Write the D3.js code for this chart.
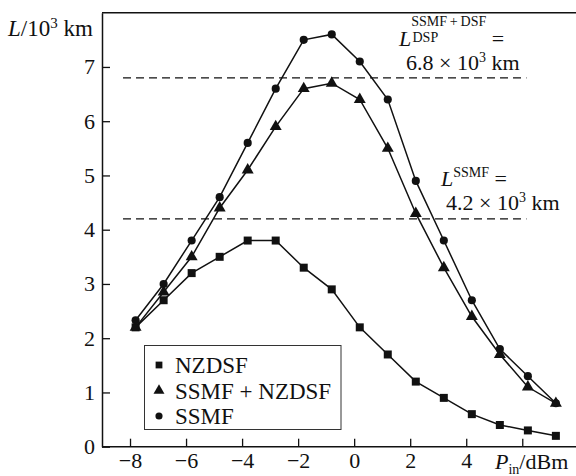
<!DOCTYPE html>
<html>
<head>
<meta charset="utf-8">
<script src="https://cdn.jsdelivr.net/npm/d3@7"></script>
<style>
  html, body { margin: 0; padding: 0; background: #fff; }
  svg { display: block; }
  svg text { font-family: "Liberation Serif", "Times New Roman", Tinos, "Nimbus Roman", Times, serif; }
</style>
</head>
<body>
<svg id="chart" width="576" height="476"></svg>
<script>
// Input power, dBm
const powerIn = [-7.8, -6.8, -5.8, -4.8, -3.8, -2.8, -1.8, -0.8, 0.2, 1.2, 2.2, 3.2, 4.2, 5.2, 6.2, 7.2];
// Transmission distance, 10^3 km
const nzdsf     = [2.2, 2.7, 3.2, 3.5, 3.8, 3.8, 3.3, 2.9, 2.2, 1.7, 1.2, 0.9, 0.6, 0.4, 0.3, 0.2];
const ssmfNzdsf = [2.2, 2.85, 3.5, 4.4, 5.1, 5.9, 6.6, 6.7, 6.4, 5.5, 4.3, 3.3, 2.4, 1.7, 1.1, 0.8];
const ssmf      = [2.33, 3.0, 3.8, 4.6, 5.6, 6.6, 7.5, 7.6, 7.1, 6.4, 4.9, 3.8, 2.7, 1.8, 1.3, 0.8];

const seriesNames = ["NZDSF", "SSMF + NZDSF", "SSMF"];
const xTicks = [-8, -6, -4, -2, 0, 2, 4, 6];
const xTickLabels = ["\u22128", "\u22126", "\u22124", "\u22122", "0", "2", "4", ""];
const yTicks = [0, 1, 2, 3, 4, 5, 6, 7];
const yTickLabels = ["0", "1", "2", "3", "4", "5", "6", "7"];
// Reference distances (dashed lines)
const refLevels = [6.8, 4.2];
const refSpan = [-8.25, 6.15];

const ink = "#111";
const serif = "'Liberation Serif', 'Times New Roman', Tinos, 'Nimbus Roman', Times, serif";
const svg = d3.select("#chart");

const x = d3.scaleLinear().domain([-9, 8]).range([102, 578.3]);
const y = d3.scaleLinear().domain([0, 8]).range([446.7, 12.7]);

// Frame: top border
svg.append("line")
  .attr("x1", x(-9)).attr("x2", 576)
  .attr("y1", y(8)).attr("y2", y(8))
  .attr("stroke", ink).attr("stroke-width", 1.5);

// Axes with inward ticks
const yAxis = d3.axisLeft(y).tickValues(yTicks)
  .tickFormat((d, i) => yTickLabels[i])
  .tickSizeInner(-8).tickSizeOuter(0).tickPadding(7);
const gy = svg.append("g").attr("transform", `translate(${x(-9)},0)`).call(yAxis);

const xAxis = d3.axisBottom(x).tickValues(xTicks)
  .tickFormat((d, i) => xTickLabels[i])
  .tickSizeInner(-8).tickSizeOuter(0).tickPadding(6);
const gx = svg.append("g").attr("transform", `translate(0,${y(0)})`).call(xAxis);

[gx, gy].forEach(g => {
  g.attr("font-family", serif);
  g.select(".domain").attr("stroke", ink).attr("stroke-width", 1.5);
  g.selectAll(".tick line").attr("stroke", ink).attr("stroke-width", 1.3);
  g.selectAll(".tick text").attr("fill", ink)
    .style("font-family", serif).style("font-size", "22px");
});
gx.select(".domain").attr("d", `M${x(-9)},0H576`);

// Dashed reference levels
svg.selectAll("line.ref").data(refLevels).join("line")
  .attr("class", "ref")
  .attr("x1", x(refSpan[0])).attr("x2", x(refSpan[1]))
  .attr("y1", d => y(d)).attr("y2", d => y(d))
  .attr("stroke", ink).attr("stroke-width", 1.3)
  .attr("stroke-dasharray", "8,5");

// Curves
const seriesData = [nzdsf, ssmfNzdsf, ssmf];
const symbols = [d3.symbolSquare, d3.symbolTriangle, d3.symbolCircle];
const symSizes = [64, 62, 52];
const line = d3.line().x(d => x(d[0])).y(d => y(d[1]));

seriesData.forEach((vals, k) => {
  const pts = powerIn.map((p, i) => [p, vals[i]]);
  svg.append("path").datum(pts)
    .attr("d", line).attr("fill", "none")
    .attr("stroke", ink).attr("stroke-width", 1.5);
  svg.append("g").selectAll("path").data(pts).join("path")
    .attr("transform", d => `translate(${x(d[0])},${y(d[1])})`)
    .attr("d", d3.symbol(symbols[k], symSizes[k]))
    .attr("fill", ink);
});

// Legend
const legend = svg.append("g");
legend.append("rect")
  .attr("x", 144.5).attr("y", 345.5).attr("width", 196.5).attr("height", 84)
  .attr("fill", "#fff").attr("stroke", "#333").attr("stroke-width", 1);
const legSizes = [46, 52, 40];
seriesNames.forEach((name, k) => {
  const cy = 365 + k * 25.5;
  legend.append("path")
    .attr("transform", `translate(159,${cy})`)
    .attr("d", d3.symbol(symbols[k], legSizes[k]))
    .attr("fill", ink);
  legend.append("text")
    .attr("x", 175).attr("y", cy + 8)
    .attr("fill", ink).style("font-size", "23px")
    .text(name);
});

// Axis titles
const yTitle = svg.append("text").attr("x", 8).attr("y", 36)
  .attr("fill", ink).style("font-size", "23px");
yTitle.append("tspan").style("font-style", "italic").text("L");
yTitle.append("tspan").text("/10");
yTitle.append("tspan").attr("dy", -8).style("font-size", "15px").text("3");
yTitle.append("tspan").attr("dy", 8).text("\u00a0km");

const xTitle = svg.append("text").attr("x", 495).attr("y", 469)
  .attr("fill", ink).style("font-size", "22px");
xTitle.append("tspan").style("font-style", "italic").text("P");
xTitle.append("tspan").attr("dy", 5).style("font-size", "14px").text("in");
xTitle.append("tspan").attr("dy", -5).text("/dBm");

// Annotations of the reference distances
const a1 = svg.append("text").attr("x", 399).attr("y", 46)
  .attr("fill", ink).style("font-size", "22px");
a1.append("tspan").style("font-style", "italic").text("L");
a1.append("tspan").attr("dy", -20).style("font-size", "14px").text("SSMF\u2009+\u2009DSF");
a1.append("tspan").attr("dy", 20).style("font-size", "22px").text(" =");
svg.append("text").attr("x", 412.5).attr("y", 41.5)
  .attr("fill", ink).style("font-size", "14px").text("DSP");

const a1b = svg.append("text").attr("x", 406).attr("y", 70)
  .attr("fill", ink).style("font-size", "22px");
a1b.append("tspan").text("6.8 \u00d7 10");
a1b.append("tspan").attr("dy", -8).style("font-size", "14px").text("3");
a1b.append("tspan").attr("dy", 8).text("\u00a0km");

const a2 = svg.append("text").attr("x", 441).attr("y", 186)
  .attr("fill", ink).style("font-size", "22px");
a2.append("tspan").style("font-style", "italic").text("L");
a2.append("tspan").attr("dy", -9).style("font-size", "14px").text("SSMF");
a2.append("tspan").attr("dy", 9).style("font-size", "22px").text(" =");

const a2b = svg.append("text").attr("x", 446).attr("y", 210)
  .attr("fill", ink).style("font-size", "22px");
a2b.append("tspan").text("4.2 \u00d7 10");
a2b.append("tspan").attr("dy", -8).style("font-size", "14px").text("3");
a2b.append("tspan").attr("dy", 8).text("\u00a0km");
</script>
</body>
</html>
